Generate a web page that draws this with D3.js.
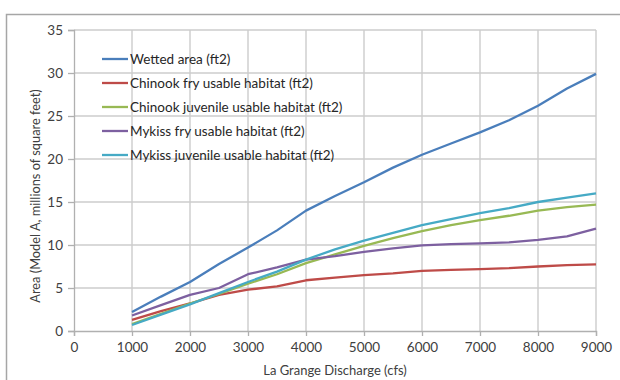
<!DOCTYPE html>
<html>
<head>
<meta charset="utf-8">
<script src="https://cdn.jsdelivr.net/npm/d3@7"></script>
<style>
  html, body { margin: 0; padding: 0; background: #fff; }
  svg { display: block; font-family: Lato, "Open Sans", sans-serif; }
</style>
</head>
<body>
<svg id="chart" width="620" height="380"></svg>
<script>
// Discharge (cfs) at which each habitat value was computed
const discharge = [1000, 1500, 2000, 2500, 3000, 3500, 4000, 4500, 5000, 5500, 6000, 6500, 7000, 7500, 8000, 8500, 9000];

// Areas, millions of square feet
const wettedArea        = [2.2, 4.0, 5.7, 7.8, 9.7, 11.7, 14.0, 15.7, 17.3, 19.0, 20.5, 21.8, 23.1, 24.5, 26.2, 28.2, 29.9];
const chinookFry        = [1.3, 2.3, 3.2, 4.2, 4.8, 5.2, 5.9, 6.2, 6.5, 6.7, 7.0, 7.1, 7.2, 7.3, 7.5, 7.65, 7.75];
const chinookJuvenile   = [0.8, 2.0, 3.2, 4.3, 5.5, 6.6, 7.9, 8.9, 9.9, 10.8, 11.6, 12.3, 12.9, 13.4, 14.0, 14.4, 14.7];
const mykissFry         = [1.8, 3.0, 4.2, 5.0, 6.6, 7.4, 8.3, 8.7, 9.2, 9.6, 9.95, 10.1, 10.2, 10.3, 10.6, 11.0, 11.9];
const mykissJuvenile    = [0.7, 1.9, 3.1, 4.4, 5.7, 6.9, 8.3, 9.5, 10.5, 11.4, 12.3, 13.0, 13.7, 14.3, 15.0, 15.5, 16.0];

const seriesNames  = ["Wetted area (ft2)", "Chinook fry usable habitat (ft2)", "Chinook juvenile usable habitat (ft2)", "Mykiss fry usable habitat (ft2)", "Mykiss juvenile usable habitat (ft2)"];
const seriesValues = [wettedArea, chinookFry, chinookJuvenile, mykissFry, mykissJuvenile];
const seriesColors = ["#4A7EBB", "#BE4B48", "#98B954", "#7D60A0", "#46AAC5"];

const xTicks = [0, 1000, 2000, 3000, 4000, 5000, 6000, 7000, 8000, 9000];
const yTicks = [0, 5, 10, 15, 20, 25, 30, 35];

const svg = d3.select("#chart");
const plot = { left: 74, right: 596, top: 30, bottom: 331 };

const x = d3.scaleLinear().domain([0, 9000]).range([plot.left, plot.right]);
const y = d3.scaleLinear().domain([0, 35]).range([plot.bottom, plot.top]);

// Outer chart frame
svg.append("rect")
  .attr("x", 6.5).attr("y", 14.5)
  .attr("width", 640).attr("height", 400)
  .attr("fill", "none").attr("stroke", "#a6a6a6").attr("stroke-width", 1.5);

// Gridlines
const grid = svg.append("g").attr("stroke", "#cccccc").attr("stroke-width", 1.4);
grid.selectAll("line.h").data(yTicks.filter(d => d > 0)).join("line")
  .attr("x1", plot.left).attr("x2", plot.right)
  .attr("y1", d => y(d)).attr("y2", d => y(d));
grid.selectAll("line.v").data(xTicks.filter(d => d > 0)).join("line")
  .attr("y1", plot.top).attr("y2", plot.bottom)
  .attr("x1", d => x(d)).attr("x2", d => x(d));

// Axes
const yAxis = svg.append("g")
  .attr("transform", `translate(${plot.left},0)`)
  .call(d3.axisLeft(y).tickValues(yTicks).tickSize(6).tickPadding(5));
const xAxis = svg.append("g")
  .attr("transform", `translate(0,${plot.bottom})`)
  .call(d3.axisBottom(x).tickValues(xTicks).tickSize(5).tickPadding(6).tickFormat(d3.format("d")));
[yAxis, xAxis].forEach(a => {
  a.select(".domain").attr("stroke", "#b0b0b0").attr("stroke-width", 1.3);
  a.selectAll(".tick line").attr("stroke", "#b0b0b0").attr("stroke-width", 1.3);
  a.selectAll(".tick text").attr("fill", "#404040").attr("font-size", 13.5).attr("font-family", "Lato, sans-serif");
});

// Axis titles
svg.append("text")
  .attr("x", (plot.left + plot.right) / 2).attr("y", 375)
  .attr("text-anchor", "middle").attr("font-size", 13).attr("fill", "#404040")
  .text("La Grange Discharge (cfs)");
svg.append("text")
  .attr("transform", "translate(40,196) rotate(-90)")
  .attr("text-anchor", "middle").attr("font-size", 12.8).attr("fill", "#404040")
  .text("Area (Model A, millions of square feet)");

// Series lines
const line = d3.line().x(d => x(d[0])).y(d => y(d[1]));
seriesValues.forEach((vals, i) => {
  svg.append("path")
    .datum(discharge.map((q, j) => [q, vals[j]]))
    .attr("fill", "none")
    .attr("stroke", seriesColors[i])
    .attr("stroke-width", 2.3)
    .attr("stroke-linejoin", "round")
    .attr("d", line);
});

// Legend
const legend = svg.append("g").attr("transform", "translate(102,59)");
seriesNames.forEach((name, i) => {
  const row = legend.append("g").attr("transform", `translate(0,${i * 24})`);
  row.append("line").attr("x1", 0).attr("x2", 26).attr("y1", 0).attr("y2", 0)
    .attr("stroke", seriesColors[i]).attr("stroke-width", 2.3);
  row.append("text").attr("x", 28).attr("y", 5)
    .attr("font-size", 13.5).attr("fill", "#262626").text(name);
});
</script>
</body>
</html>
